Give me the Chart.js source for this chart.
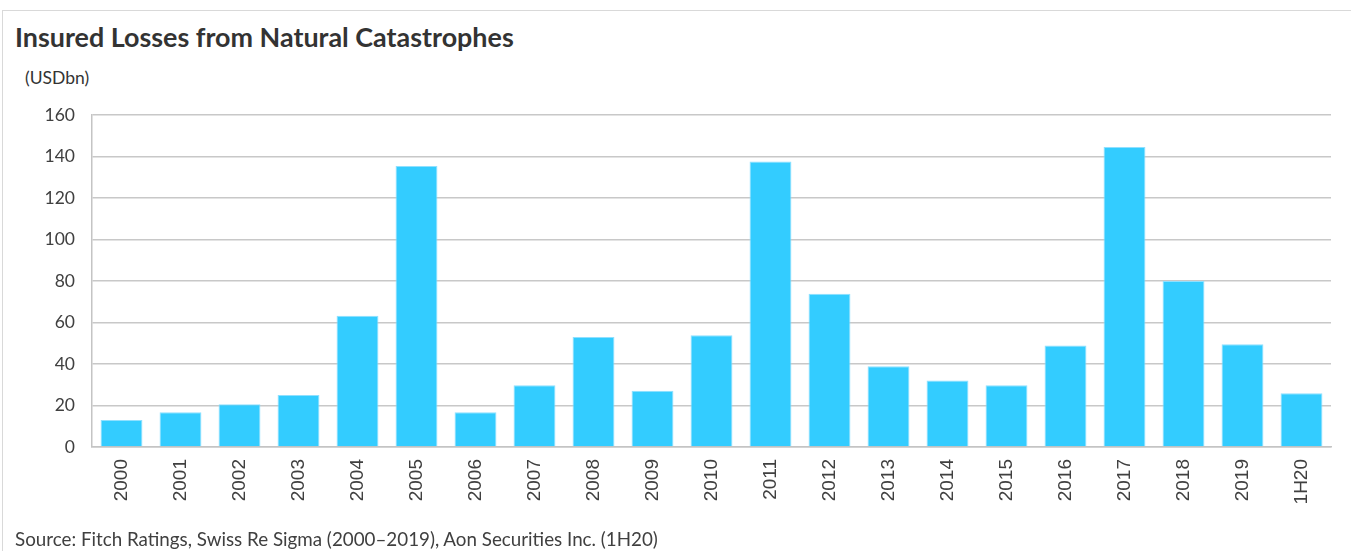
<!DOCTYPE html>
<html>
<head>
<meta charset="utf-8">
<script src="https://cdn.jsdelivr.net/npm/chart.js@4.4.1/dist/chart.umd.min.js"></script>
<style>
  html, body { margin: 0; padding: 0; background: #fff; }
  body { width: 1351px; height: 551px; position: relative; overflow: hidden; font-family: Lato, sans-serif; }
  #frame { position: absolute; left: 2px; top: 10px; width: 1400px; height: 600px;
           border-top: 1px solid #d9d9d9; border-left: 1px solid #d9d9d9; }
  #title { position: absolute; left: 15px; top: 23.5px; font-size: 26.9px; line-height: 26.9px;
           font-weight: bold; color: #333; white-space: nowrap; }
  #unit { position: absolute; left: 25px; top: 68.5px; font-size: 17.5px; line-height: 17.5px;
          color: #333; white-space: nowrap; }
  #source { position: absolute; left: 15px; top: 529.5px; font-size: 18.8px; line-height: 18.8px;
            color: #404040; white-space: nowrap; }
  #wrap { position: absolute; left: 0; top: 0; width: 1351px; height: 551px; }
</style>
</head>
<body>
<div id="frame"></div>
<div id="title">Insured Losses from Natural Catastrophes</div>
<div id="unit">(USDbn)</div>
<div id="wrap"><canvas id="lossChart"></canvas></div>
<div id="source">Source: Fitch Ratings, Swiss Re Sigma (2000–2019), Aon Securities Inc. (1H20)</div>

<script>
// ============================
// DATA
// ============================
const years = ["2000", "2001", "2002", "2003", "2004", "2005", "2006", "2007", "2008", "2009",
  "2010", "2011", "2012", "2013", "2014", "2015", "2016", "2017", "2018", "2019", "1H20"];

// insured losses, USD bn
const losses = [13.0, 16.7, 20.6, 25.1, 63.2, 135.4, 16.8, 29.8, 53.0, 27.1,
  53.8, 137.6, 73.9, 38.9, 32.1, 29.8, 48.9, 144.6, 80.0, 49.5, 25.9];

const yTicks = [0, 20, 40, 60, 80, 100, 120, 140, 160];

// ============================
// CHART
// ============================
const ctx = document.getElementById("lossChart").getContext("2d");

new Chart(ctx, {
  type: "bar",
  data: {
    labels: years,
    datasets: [
      {
        label: "Insured losses",
        data: losses,
        backgroundColor: "#33ccff",
        borderColor: "#8fe0ff",
        borderWidth: 1,
        categoryPercentage: 1,
        barPercentage: 0.71
      }
    ]
  },
  options: {
    responsive: true,
    maintainAspectRatio: false,
    animation: false,
    layout: {
      padding: { top: 115, right: 20, bottom: 0, left: 0 }
    },
    plugins: {
      legend: { display: false },
      title: { display: false },
      tooltip: { enabled: false }
    },
    scales: {
      x: {
        grid: { display: false, drawTicks: false },
        border: { display: true, color: "#c4c4c4", width: 1.5 },
        ticks: {
          autoSkip: false,
          minRotation: 90,
          maxRotation: 90,
          padding: 12,
          color: "#404040",
          font: { family: "'Liberation Sans', Arial, sans-serif", size: 19 }
        },
        afterFit: (scale) => { scale.height = 104; }
      },
      y: {
        min: 0,
        max: 160,
        afterBuildTicks: (scale) => { scale.ticks = yTicks.map(v => ({ value: v })); },
        grid: { color: "#c8c8c8", lineWidth: 1.5, drawTicks: false },
        border: { display: true, color: "#c4c4c4", width: 1.5 },
        ticks: {
          padding: 17,
          color: "#404040",
          font: { family: "Lato", size: 17.5 }
        },
        afterFit: (scale) => { scale.width = 92; }
      }
    }
  }
});
</script>
</body>
</html>
